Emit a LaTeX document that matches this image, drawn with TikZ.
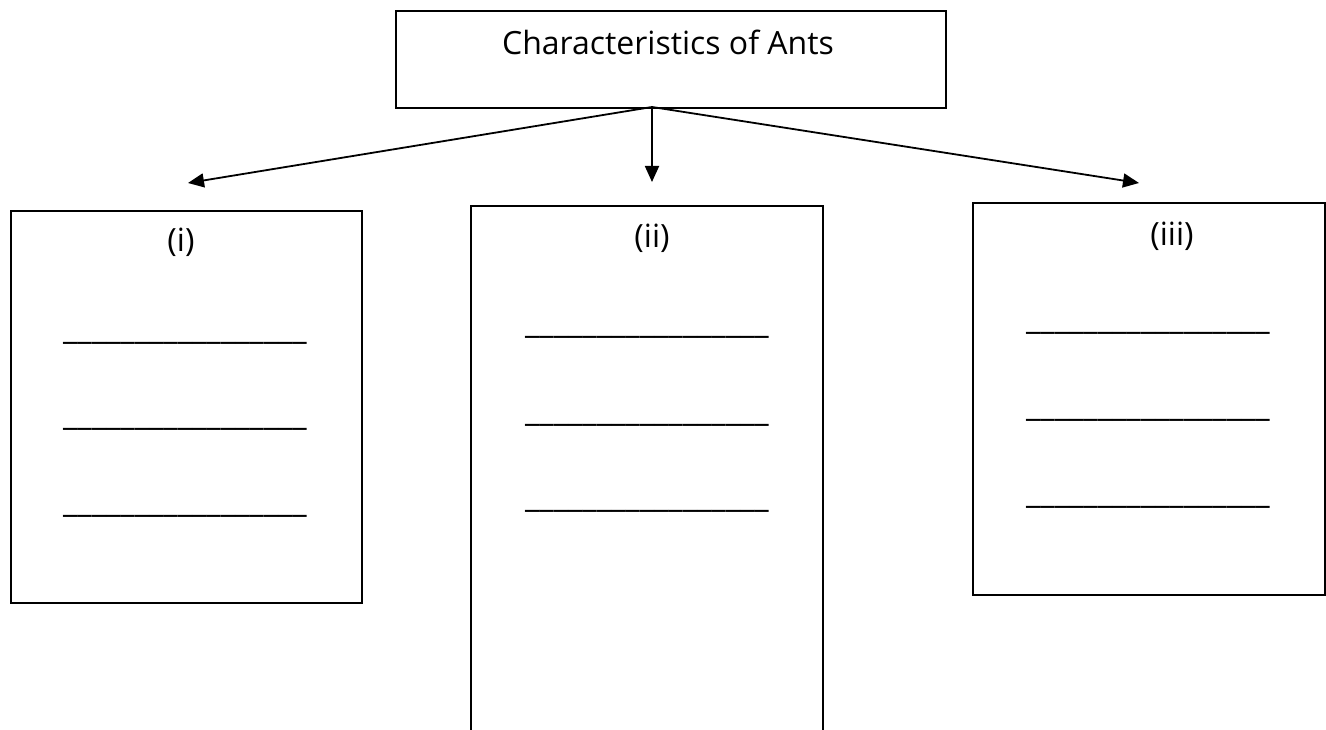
\documentclass[tikz,border=0pt]{standalone}
\usepackage{fontspec}
\setmainfont{Open Sans}
\usetikzlibrary{arrows.meta}
\begin{document}
\begin{tikzpicture}[x=1pt,y=-1pt,
  every node/.style={font=\fontsize{32}{38}\selectfont},
  frame/.style={draw, line width=1.8pt, inner sep=0pt, anchor=north west},
  blank/.style={anchor=base, inner sep=0pt},
  conn/.style={line width=1.8pt, -{Triangle[length=16pt,width=14pt]}}]
\useasboundingbox (0,0) rectangle (1326,730);
% top box
\node[frame, minimum width=550pt, minimum height=97pt] (top) at (395,10) {};
\node[anchor=base, inner sep=0pt] (title) at (668,55) {Characteristics of Ants};
% boxes
\node[frame, minimum width=351pt, minimum height=392pt] (bi) at (10,210) {};
\node[frame, minimum width=352pt, minimum height=545pt] (bii) at (470,205) {};
\node[frame, minimum width=352pt, minimum height=392pt] (biii) at (972,202) {};
% labels
\node[anchor=base, inner sep=0pt] (li) at (181,252) {(i)};
\node[anchor=base, inner sep=0pt] (lii) at (652,248) {(ii)};
\node[anchor=base, inner sep=0pt] (liii) at (1172,246) {(iii)};
% blanks
\node[blank] (i1) at (185,339) {\_\_\_\_\_\_\_\_\_\_\_\_\_\_\_\_\_};
\node[blank] (i2) at (185,425) {\_\_\_\_\_\_\_\_\_\_\_\_\_\_\_\_\_};
\node[blank] (i3) at (185,512) {\_\_\_\_\_\_\_\_\_\_\_\_\_\_\_\_\_};
\node[blank] (ii1) at (647,334) {\_\_\_\_\_\_\_\_\_\_\_\_\_\_\_\_\_};
\node[blank] (ii2) at (647,421) {\_\_\_\_\_\_\_\_\_\_\_\_\_\_\_\_\_};
\node[blank] (ii3) at (647,507) {\_\_\_\_\_\_\_\_\_\_\_\_\_\_\_\_\_};
\node[blank] (iii1) at (1148,330) {\_\_\_\_\_\_\_\_\_\_\_\_\_\_\_\_\_};
\node[blank] (iii2) at (1148,416) {\_\_\_\_\_\_\_\_\_\_\_\_\_\_\_\_\_};
\node[blank] (iii3) at (1148,503) {\_\_\_\_\_\_\_\_\_\_\_\_\_\_\_\_\_};
% connectors
\coordinate (src) at (652,107);
\coordinate (ta) at (188,183);
\coordinate (tb) at (652,182);
\coordinate (tc) at (1139,183);
\draw[conn] (src) -- (ta);
\draw[conn] (src) -- (tb);
\draw[conn] (src) -- (tc);
\end{tikzpicture}
\end{document}
